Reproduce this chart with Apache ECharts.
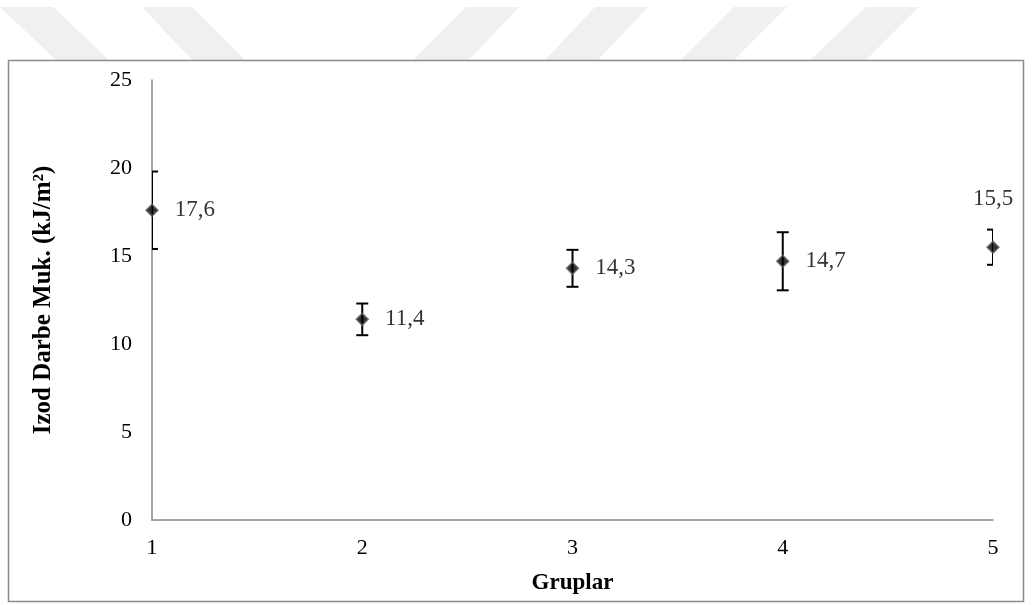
<!DOCTYPE html>
<html>
<head>
<meta charset="utf-8">
<script src="https://cdn.jsdelivr.net/npm/echarts@6/dist/echarts.min.js"></script>
<style>
  html, body { margin: 0; padding: 0; background: #fff; }
  #chart { width: 1036px; height: 605px; }
</style>
</head>
<body>
<div id="chart"></div>
<script>
// Izod impact strength per group, with standard deviation
const groups = [1, 2, 3, 4, 5];
const means = [17.6, 11.4, 14.3, 14.7, 15.5];
const deviations = [2.2, 0.9, 1.05, 1.65, 1.0];
const yTicks = [0, 5, 10, 15, 20, 25];
const labelSide = ['right', 'right', 'right', 'right', 'top'];

const serif = '"Liberation Serif", "Times New Roman", serif';
const fmt = v => v.toFixed(1).replace('.', ',');

const pointData = groups.map((g, i) => ({
  value: [g, means[i]],
  label: labelSide[i] === 'top'
    ? { position: 'top', distance: 30 }
    : { position: 'right', distance: 16 }
}));
const errorData = groups.map((g, i) => [g, means[i] - deviations[i], means[i] + deviations[i]]);

// Light diagonal band decoration above the frame
const bands = [
  [[0, 7], [53, 7], [109, 60], [56, 60]],
  [[142, 7], [192, 7], [245, 60], [192, 60]],
  [[466, 7], [519, 7], [469, 60], [413, 60]],
  [[595, 7], [648, 7], [598, 60], [545, 60]],
  [[734, 7], [787, 7], [734, 60], [681, 60]],
  [[866, 7], [919, 7], [866, 60], [810, 60]]
];

const chart = echarts.init(document.getElementById('chart'), null, { renderer: 'canvas' });
chart.setOption({
  backgroundColor: '#fff',
  animation: false,
  graphic: bands.map(p => ({
    type: 'polygon', shape: { points: p }, style: { fill: '#f0f0f0' }, silent: true
  })).concat([{
    type: 'rect', shape: { x: 8.5, y: 60.5, width: 1015, height: 541 },
    style: { fill: 'none', stroke: '#8a8a8a', lineWidth: 1.5 }, silent: true
  }]),
  grid: { left: 152, right: 43, top: 80, bottom: 85 },
  xAxis: {
    type: 'value', min: 1, max: 5, interval: 1,
    name: 'Gruplar', nameLocation: 'middle', nameGap: 52,
    nameTextStyle: { fontFamily: serif, fontWeight: 'bold', fontSize: 23, color: '#000' },
    axisLine: { lineStyle: { color: '#888', width: 1.5 } },
    axisTick: { show: false },
    splitLine: { show: false },
    axisLabel: { fontFamily: serif, fontSize: 22, color: '#000', margin: 17 }
  },
  yAxis: {
    type: 'value', min: yTicks[0], max: yTicks[yTicks.length - 1], interval: yTicks[1] - yTicks[0],
    name: 'Izod Darbe Muk. (kJ/m²)', nameLocation: 'middle', nameGap: 96, nameRotate: 90,
    nameTextStyle: { fontFamily: serif, fontWeight: 'bold', fontSize: 25, color: '#000' },
    axisLine: { show: true, lineStyle: { color: '#888', width: 1.5 } },
    axisTick: { show: false },
    splitLine: { show: false },
    axisLabel: { fontFamily: serif, fontSize: 22, color: '#000', margin: 20 }
  },
  series: [
    {
      type: 'custom',
      clip: true,
      z: 3,
      data: errorData,
      renderItem: function (params, api) {
        const x = api.value(0);
        const lo = api.coord([x, api.value(1)]);
        const hi = api.coord([x, api.value(2)]);
        const half = 6;
        const style = { stroke: '#000', lineWidth: 2 };
        return {
          type: 'group',
          children: [
            { type: 'line', shape: { x1: lo[0], y1: lo[1], x2: hi[0], y2: hi[1] }, style },
            { type: 'line', shape: { x1: hi[0] - half, y1: hi[1], x2: hi[0] + half, y2: hi[1] }, style },
            { type: 'line', shape: { x1: lo[0] - half, y1: lo[1], x2: lo[0] + half, y2: lo[1] }, style }
          ]
        };
      }
    },
    {
      type: 'scatter',
      z: 4,
      symbol: 'diamond',
      symbolSize: 12,
      itemStyle: { color: '#000', borderColor: '#666', borderWidth: 1.5 },
      label: {
        show: true,
        fontFamily: serif, fontSize: 23, color: '#000',
        formatter: p => fmt(p.value[1])
      },
      data: pointData
    }
  ]
});
</script>
</body>
</html>
